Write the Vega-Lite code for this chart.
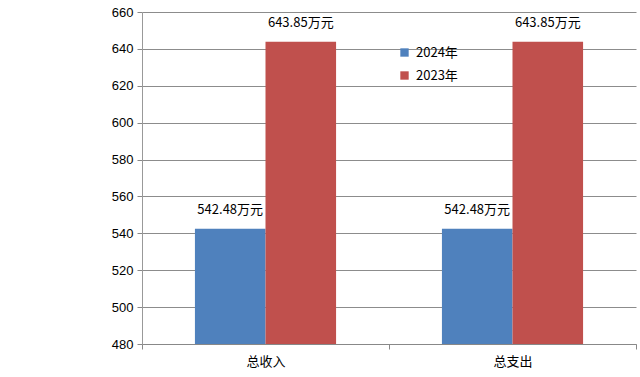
{
  "$schema": "https://vega.github.io/schema/vega-lite/v6.json",
  "autosize": {"type": "none"},
  "padding": {"left": 142, "top": 12, "right": 4, "bottom": 33},
  "width": 494,
  "height": 332,
  "background": "white",
  "config": {
    "view": {"stroke": null},
    "font": "Noto Sans CJK SC",
    "axis": {"labelFont": "Noto Sans CJK SC", "labelColor": "#000000"}
  },
  "data": {
    "values": [
      {"category": "总收入", "year": "2024年", "value": 542.48, "label": "542.48万元"},
      {"category": "总收入", "year": "2023年", "value": 643.85, "label": "643.85万元"},
      {"category": "总支出", "year": "2024年", "value": 542.48, "label": "542.48万元"},
      {"category": "总支出", "year": "2023年", "value": 643.85, "label": "643.85万元"}
    ]
  },
  "encoding": {
    "x": {
      "field": "category",
      "type": "nominal",
      "sort": ["总收入", "总支出"],
      "scale": {"paddingInner": 0, "paddingOuter": 0},
      "axis": {
        "title": null,
        "labelAngle": 0,
        "labelFontSize": 13,
        "labelPadding": 6,
        "domainColor": "#888888",
        "tickColor": "#888888",
        "tickSize": 5,
        "tickBand": "extent",
        "grid": false
      }
    },
    "xOffset": {
      "field": "year",
      "type": "nominal",
      "sort": ["2024年", "2023年"],
      "scale": {"paddingInner": 0, "paddingOuter": 0.75}
    },
    "y": {
      "field": "value",
      "type": "quantitative",
      "scale": {"domain": [480, 660], "zero": false, "nice": false},
      "axis": {
        "title": null,
        "values": [480, 500, 520, 540, 560, 580, 600, 620, 640, 660],
        "labelFont": "Liberation Sans",
        "labelFontSize": 13,
        "labelPadding": 4,
        "domainColor": "#999999",
        "tickColor": "#888888",
        "tickSize": 5,
        "gridColor": "#8c8c8c",
        "gridWidth": 1
      }
    }
  },
  "layer": [
    {
      "mark": {"type": "bar", "clip": true},
      "encoding": {
        "color": {
          "field": "year",
          "type": "nominal",
          "scale": {"domain": ["2024年", "2023年"], "range": ["#4F81BD", "#C0504D"]},
          "legend": {
            "title": null,
            "orient": "none",
            "legendX": 256,
            "legendY": 34,
            "symbolType": "square",
            "symbolSize": 70,
            "symbolStrokeWidth": 0,
            "labelFont": "Noto Sans CJK SC",
            "labelFontSize": 13,
            "labelColor": "#000000",
            "rowPadding": 9,
            "labelOffset": 5
          }
        }
      }
    },
    {
      "mark": {"type": "text", "dy": -12, "baseline": "bottom", "fontSize": 13, "color": "#000000", "font": "Noto Sans CJK SC"},
      "encoding": {
        "text": {"field": "label"}
      }
    }
  ]
}
